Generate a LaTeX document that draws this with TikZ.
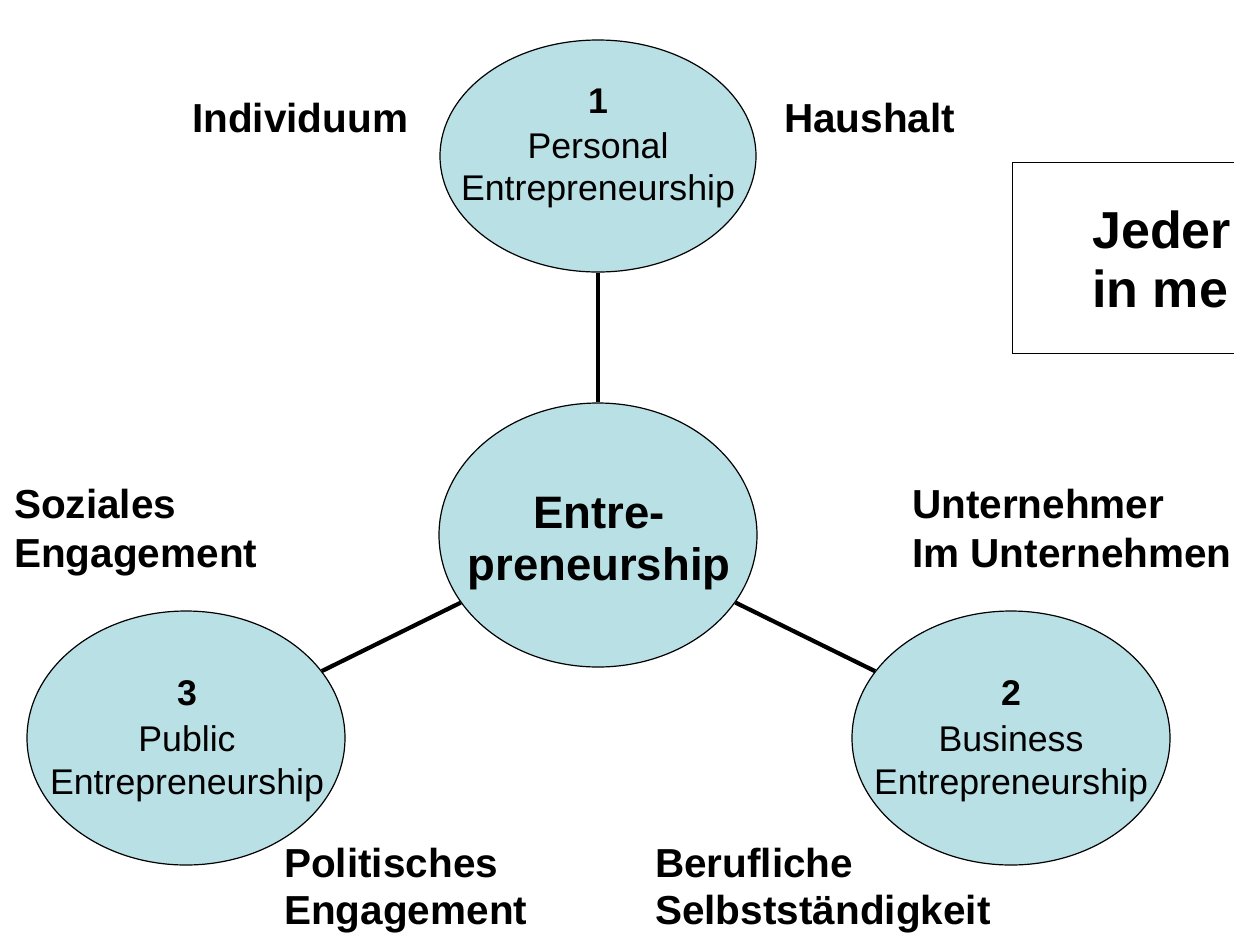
\documentclass[tikz,border=0pt]{standalone}
\usepackage{fontspec}
\setmainfont{Liberation Sans}
\usetikzlibrary{shapes.geometric}
\definecolor{bubblefill}{RGB}{185,224,228}
\begin{document}
\begin{tikzpicture}[x=1pt,y=-1pt,
  bubble/.style={ellipse, draw=black, line width=1.2pt, fill=bubblefill, inner sep=0pt},
  conn/.style={line width=4.2pt},
  lab/.style={font=\fontsize{40.5}{48}\selectfont\bfseries, anchor=base west, inner sep=0pt},
  intxt/.style={font=\fontsize{35.7}{43}\selectfont, anchor=base, inner sep=0pt},
  num/.style={font=\fontsize{35.7}{43}\selectfont\bfseries, anchor=base, inner sep=0pt},
  ctxt/.style={font=\fontsize{45.5}{54}\selectfont\bfseries, anchor=base, inner sep=0pt},
  boxtxt/.style={font=\fontsize{52}{60}\selectfont\bfseries, anchor=base west, inner sep=0pt}]
\fill[white] (0,0) rectangle (1234,932);
\useasboundingbox (0,0) rectangle (1234,932);
\begin{scope}
\clip (0,0) rectangle (1234,932);
% ellipses
\node[bubble, minimum width=316pt, minimum height=232pt] (p) at (598,156) {};
\node[bubble, minimum width=318pt, minimum height=264pt] (c) at (598,535) {};
\node[bubble, minimum width=318pt, minimum height=254pt] (l) at (186,738) {};
\node[bubble, minimum width=318pt, minimum height=254pt] (r) at (1011,738) {};
% connectors
\draw[conn] (p) -- (c);
\draw[conn] (c) -- (l);
\draw[conn] (c) -- (r);
% ellipse texts
\node[num] (p1) at (598,113) {1};
\node[intxt] (p2) at (598,158) {Personal};
\node[intxt] (p3) at (598,200) {Entrepreneurship};
\node[num] (l1) at (187,705) {3};
\node[intxt] (l2) at (187,751) {Public};
\node[intxt] (l3) at (187,794) {Entrepreneurship};
\node[num] (r1) at (1011,705) {2};
\node[intxt] (r2) at (1011,751) {Business};
\node[intxt] (r3) at (1011,794) {Entrepreneurship};
\node[ctxt] (c1) at (599,528) {Entre-};
\node[ctxt] (c2) at (599,580) {preneurship};
% labels
\node[lab] (t1) at (192,132) {Individuum};
\node[lab] (t2) at (784,132) {Haushalt};
\node[lab] (t3) at (14,518) {Soziales};
\node[lab] (t4) at (14,567) {Engagement};
\node[lab] (t5) at (912,518) {Unternehmer};
\node[lab] (t6) at (912,567) {Im Unternehmen};
\node[lab] (t7) at (284,877) {Politisches};
\node[lab] (t8) at (284,924) {Engagement};
\node[lab] (t9) at (655,877) {Berufliche};
\node[lab] (t10) at (655,924) {Selbstständigkeit};
% box
\node[draw=black, line width=1.2pt, minimum width=260pt, minimum height=191pt, anchor=north west, inner sep=0pt] (box) at (1012,162) {};
\node[boxtxt] (b1) at (1092,248) {Jeder};
\node[boxtxt] (b2) at (1092,307) {in me};
\end{scope}
\end{tikzpicture}
\end{document}
